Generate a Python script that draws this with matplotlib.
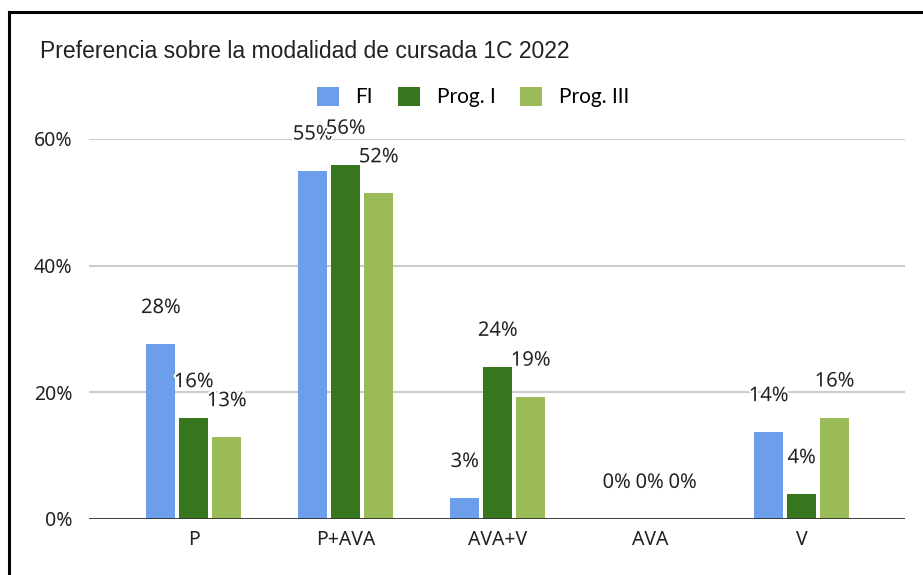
import matplotlib
matplotlib.use("Agg")
import matplotlib.pyplot as plt
import matplotlib.patheffects as pe
from matplotlib.lines import Line2D
from matplotlib.patches import Patch
import numpy as np

# data (fractions)
categories = ["P", "P+AVA", "AVA+V", "AVA", "V"]
series_names = ["FI", "Prog. I", "Prog. III"]
fi = [0.276, 0.550, 0.033, 0.0, 0.137]
prog1 = [0.159, 0.559, 0.240, 0.0, 0.039]
prog3 = [0.129, 0.514, 0.193, 0.0, 0.160]
fi_labels = ["28%", "55%", "3%", "0%", "14%"]
prog1_labels = ["16%", "56%", "24%", "0%", "4%"]
prog3_labels = ["13%", "52%", "19%", "0%", "16%"]
yticks = [0, 0.2, 0.4, 0.6]
ytick_labels = ["0%", "20%", "40%", "60%"]

colors = ["#6d9eeb", "#38761d", "#9bbb59"]

fig = plt.figure(figsize=(9.23, 5.75), dpi=100)
ax = fig.add_axes([0.0964, 0.0974, 0.8841, 0.6609])

x = np.arange(len(categories))
width = 0.19
step = 0.217
series = [fi, prog1, prog3]
labels = [fi_labels, prog1_labels, prog3_labels]
for i, (vals, labs) in enumerate(zip(series, labels)):
    pos = x + (i - 1) * step
    ax.bar(pos, vals, width, color=colors[i], zorder=3)
    for px, v, lab in zip(pos, vals, labs):
        ax.annotate(lab, (px, v), xytext=(0, 26), textcoords="offset points",
                    ha="center", va="center", fontsize=14.5, family="Noto Sans",
                    color="#222222", zorder=5, annotation_clip=False,
                    path_effects=[pe.withStroke(linewidth=3, foreground="white")])

ax.set_xlim(-0.69, 4.68)
ax.set_ylim(0, 0.6)
ax.set_yticks(yticks)
ax.set_yticklabels(ytick_labels)
ax.set_xticks(x)
ax.set_xticklabels(categories)
ax.grid(axis="y", color="#cccccc", linewidth=1.5, zorder=0)
ax.axhline(0, color="#333333", linewidth=2, zorder=4)
for s in ax.spines.values():
    s.set_visible(False)
ax.tick_params(length=0, labelsize=14, colors="#222222", pad=12)
for t in ax.get_xticklabels() + ax.get_yticklabels():
    t.set_family("Noto Sans")
ax.tick_params(axis="x", pad=8)

fig.text(40 / 923, 1 - 52 / 575, "Preferencia sobre la modalidad de cursada 1C 2022",
         family="Liberation Sans", fontsize=16.5, va="center", ha="left", color="#222222")

handles = [Patch(facecolor=c, edgecolor="none") for c in colors]
fig.legend(handles, series_names, loc="center", bbox_to_anchor=(473 / 923, 1 - 97 / 575),
           ncol=3, frameon=False, prop={"family": "Lato", "size": 15},
           handlelength=1.05, handleheight=1.05, handletextpad=0.8, columnspacing=1.2)

# outer frame (top and left edges visible)
fig.add_artist(Line2D([9 / 923, 9 / 923], [0, 1 - 12 / 575], color="black", linewidth=2.2))
fig.add_artist(Line2D([9 / 923, 1], [1 - 12 / 575, 1 - 12 / 575], color="black", linewidth=2.2))

fig.savefig("out.png", dpi=100, facecolor="white")
